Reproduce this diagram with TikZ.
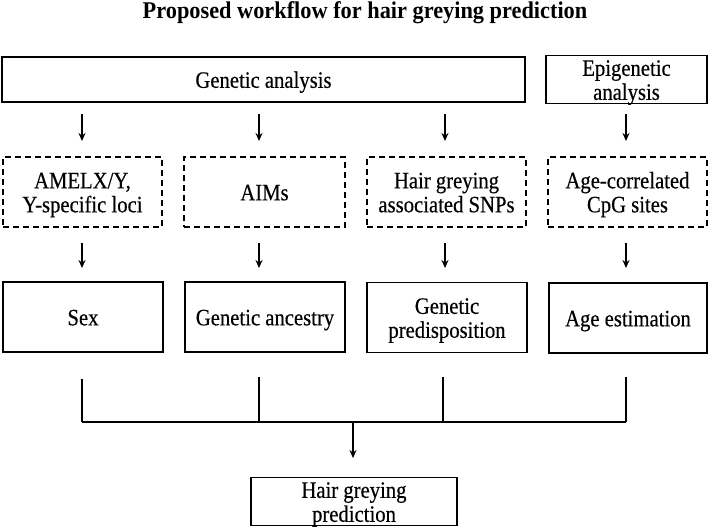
\documentclass[tikz,border=0pt]{standalone}
\usepackage{fontspec}
\setmainfont{Liberation Serif}[FakeStretch=0.88,FakeBold=0.4]
\newfontfamily\titlefont{Liberation Serif}[FakeStretch=0.93]
\usetikzlibrary{arrows.meta}
\newcommand\bxt[1]{\raisebox{-3.5pt}[\height][\depth]{\begin{tabular}{@{}c@{}}#1\end{tabular}}}
\begin{document}
\begin{tikzpicture}[x=1pt,y=-1pt,
  box/.style={draw,line width=1.5pt,inner sep=0pt,
    font=\fontsize{23.5}{24}\selectfont},
  dbox/.style={box,dash pattern=on 6pt off 4pt},
  arr/.style={line width=1.3pt,-{Stealth[length=8pt,width=7pt]}},
  ln/.style={line width=1.3pt}]
\useasboundingbox (0,0) rectangle (709,528);
\node[anchor=base,font=\titlefont\fontsize{24}{26}\selectfont\bfseries] (title) at (365,18) {Proposed workflow for hair greying prediction};
% top row
\node[box,minimum width=523pt,minimum height=45pt] (gen) at (263.5,79.5) {\bxt{Genetic analysis}};
\node[box,minimum width=161pt,minimum height=45pt] (epi) at (626.5,79.5) {\bxt{Epigenetic\\analysis}};
% dashed row
\node[dbox,minimum width=159pt,minimum height=70pt] (d1) at (82.5,192) {\bxt{AMELX/Y,\\Y-specific loci}};
\node[dbox,minimum width=161pt,minimum height=70pt] (d2) at (264.5,192) {\bxt{AIMs}};
\node[dbox,minimum width=159pt,minimum height=70pt] (d3) at (446.5,192) {\bxt{Hair greying\\associated SNPs}};
\node[dbox,minimum width=159pt,minimum height=70pt] (d4) at (627.5,192) {\bxt{Age-correlated\\CpG sites}};
% solid row
\node[box,minimum width=160pt,minimum height=70pt] (s1) at (83,317) {\bxt{Sex}};
\node[box,minimum width=160pt,minimum height=70pt] (s2) at (265,317) {\bxt{Genetic ancestry}};
\node[box,minimum width=160pt,minimum height=70pt] (s3) at (447,317.5) {\bxt{Genetic\\predisposition}};
\node[box,minimum width=158pt,minimum height=70pt] (s4) at (628,318) {\bxt{Age estimation}};
% final
\node[box,minimum width=206pt,minimum height=47pt] (fin) at (354,501.5) {\bxt{Hair greying\\prediction}};
% arrow coordinates
\foreach \i/\x in {1/82,2/259,3/445,4/626}{
  \coordinate (a\i) at (\x,114);
  \coordinate (b\i) at (\x,141);
  \coordinate (c\i) at (\x,243);
  \coordinate (e\i) at (\x,268);
}
\coordinate (v1) at (82,379);
\coordinate (v2) at (259,377);
\coordinate (v3) at (443,377);
\coordinate (v4) at (626,377);
\coordinate (h1) at (82,422);
\coordinate (h2) at (259,422);
\coordinate (h3) at (443,422);
\coordinate (h4) at (626,422);
\coordinate (m) at (353,422);
\coordinate (mt) at (353,458);
\foreach \i in {1,2,3,4}{
  \draw[arr] (a\i) -- (b\i);
  \draw[arr] (c\i) -- (e\i);
  \draw[ln] (v\i) -- (h\i);
}
\draw[ln] (h1) -- (h4);
\draw[arr] (m) -- (mt);
\end{tikzpicture}
\end{document}
